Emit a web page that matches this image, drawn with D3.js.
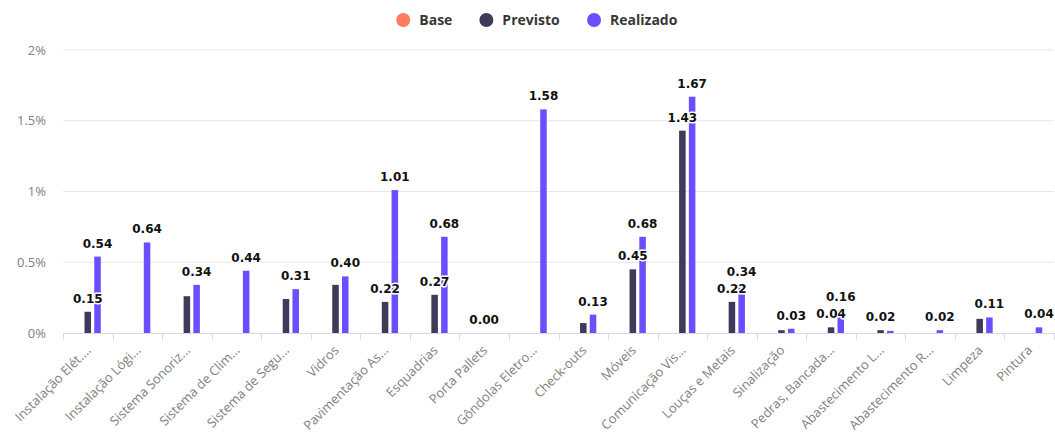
<!DOCTYPE html>
<html>
<head>
<meta charset="utf-8">
<script src="https://cdn.jsdelivr.net/npm/d3@7"></script>
<style>
  html, body { margin: 0; padding: 0; background: #ffffff; }
  svg { display: block; }
</style>
</head>
<body>
<svg id="chart" width="1055" height="436"></svg>
<script>
// Categories (service groups) as shown on the axis
const categories = [
  "Instalação Elét....", "Instalação Lógi...", "Sistema Sonoriz...", "Sistema de Clim...",
  "Sistema de Segu...", "Vidros", "Pavimentação As...", "Esquadrias", "Porta Pallets",
  "Gôndolas Eletro...", "Check-outs", "Móveis", "Comunicação Vis...", "Louças e Metais",
  "Sinalização", "Pedras, Bancada...", "Abastecimento L...", "Abastecimento R...",
  "Limpeza", "Pintura"
];

// Series values in percent (null = no value)
const baseValues = [null, null, null, null, null, null, null, null, null, null,
                    null, null, null, null, null, null, null, null, null, null];
const previstoValues = [0.15, null, 0.26, null, 0.24, 0.34, 0.22, 0.27, 0.00, null,
                        0.07, 0.45, 1.43, 0.22, 0.02, 0.04, 0.02, null, 0.10, null];
const realizadoValues = [0.54, 0.64, 0.34, 0.44, 0.31, 0.40, 1.01, 0.68, null, 1.58,
                         0.13, 0.68, 1.67, 0.34, 0.03, 0.16, 0.015, 0.02, 0.11, 0.04];

const seriesNames = ["Base", "Previsto", "Realizado"];
const seriesColors = ["#FF7A5F", "#3D3A5A", "#6B4EFF"];
const yTicks = [0, 0.5, 1, 1.5, 2];

const series = [baseValues, previstoValues, realizadoValues].map((values, i) => ({
  name: seriesNames[i], color: seriesColors[i], values
}));

const svg = d3.select("#chart");
const plot = { left: 63, right: 1054, top: 50, bottom: 333 };

const x0 = d3.scaleBand().domain(categories).range([plot.left, plot.right]).padding(0);
const groupWidth = x0.bandwidth() * 0.59;
const x1 = d3.scaleBand().domain(seriesNames).range([-groupWidth / 2, groupWidth / 2]).padding(0);
const barWidth = x1.bandwidth() * 0.67;
const y = d3.scaleLinear().domain([0, 2]).range([plot.bottom, plot.top]);

const fontUI = "'Open Sans', 'Noto Sans', sans-serif";
const axisGray = "#808080";

// Horizontal grid lines
svg.append("g").selectAll("line")
  .data(yTicks.filter(t => t > 0))
  .join("line")
  .attr("x1", plot.left).attr("x2", plot.right)
  .attr("y1", d => y(d)).attr("y2", d => y(d))
  .attr("stroke", "#e6e6e6").attr("stroke-width", 1);

// Y axis labels
const yAxis = d3.axisLeft(y).tickValues(yTicks)
  .tickFormat(d => d3.format("~g")(d) + "%").tickSize(0).tickPadding(17);
svg.append("g")
  .attr("transform", `translate(${plot.left},0)`)
  .call(yAxis)
  .call(g => g.select(".domain").remove())
  .call(g => g.selectAll("text")
    .attr("fill", axisGray)
    .style("font-family", fontUI)
    .style("font-size", "13px"));

// X axis: baseline, boundary ticks, rotated labels
const xAxisG = svg.append("g");
xAxisG.append("line")
  .attr("x1", plot.left).attr("x2", plot.right)
  .attr("y1", plot.bottom + 0.5).attr("y2", plot.bottom + 0.5)
  .attr("stroke", "#d4d9ee").attr("stroke-width", 1);
const boundaries = categories.map(c => x0(c)).concat([x0(categories[categories.length - 1]) + x0.bandwidth()]);
xAxisG.selectAll("line.tick")
  .data(boundaries)
  .join("line")
  .attr("class", "tick")
  .attr("x1", d => Math.round(d) + 0.5).attr("x2", d => Math.round(d) + 0.5)
  .attr("y1", plot.bottom).attr("y2", plot.bottom + 7)
  .attr("stroke", "#d4d9ee").attr("stroke-width", 1);
xAxisG.selectAll("text")
  .data(categories)
  .join("text")
  .attr("transform", d => `translate(${x0(d) + x0.bandwidth() / 2 + 4},${plot.bottom + 18}) rotate(-45)`)
  .attr("text-anchor", "end")
  .attr("fill", axisGray)
  .style("font-family", fontUI)
  .style("font-size", "13px")
  .text(d => d);

// Bars
const barsG = svg.append("g");
series.forEach(s => {
  barsG.append("g").selectAll("rect")
    .data(categories.map((c, i) => ({ c, v: s.values[i] })).filter(d => d.v != null))
    .join("rect")
    .attr("x", d => x0(d.c) + x0.bandwidth() / 2 + x1(s.name) + (x1.bandwidth() - barWidth) / 2)
    .attr("width", barWidth)
    .attr("y", d => y(d.v))
    .attr("height", d => y(0) - y(d.v))
    .attr("fill", s.color);
});

// Value labels: where two labels of one category collide, keep the larger value's
const labelH = 14;
const labels = [];
categories.forEach((c, i) => {
  const items = series
    .map(s => ({ s, v: s.values[i] }))
    .filter(d => d.v != null)
    .sort((a, b) => b.v - a.v);
  const kept = [];
  items.forEach(d => {
    const ly = y(d.v) - 9;
    if (kept.every(k => Math.abs(k.ly - ly) >= labelH)) {
      kept.push({ ly });
      labels.push({ x: x0(c) + x0.bandwidth() / 2 + x1(d.s.name) + x1.bandwidth() / 2, y: ly, v: d.v });
    }
  });
});
svg.append("g").selectAll("text")
  .data(labels)
  .join("text")
  .attr("x", d => d.x).attr("y", d => d.y)
  .attr("text-anchor", "middle")
  .attr("fill", "#111111")
  .attr("stroke", "#ffffff").attr("stroke-width", 3)
  .attr("stroke-linejoin", "round")
  .style("paint-order", "stroke")
  .style("font-family", "'DejaVu Sans', sans-serif")
  .style("font-weight", "bold")
  .style("font-size", "12px")
  .text(d => d3.format(".2f")(d.v));

// Legend
const legend = svg.append("g").attr("transform", "translate(0,20)");
const items = legend.selectAll("g").data(series).join("g");
items.append("circle").attr("r", 7).attr("fill", d => d.color);
items.append("text")
  .attr("x", 16).attr("dy", "0.35em")
  .attr("fill", "#373737")
  .style("font-family", fontUI)
  .style("font-weight", "bold")
  .style("font-size", "14px")
  .text(d => d.name);
const widths = [];
items.each(function () { widths.push(this.getBBox().width); });
const gap = 27;
const total = d3.sum(widths) + gap * (widths.length - 1);
let cx = 537 - total / 2 + 7;
items.attr("transform", (d, i) => {
  const t = `translate(${cx},0)`;
  cx += widths[i] + gap;
  return t;
});
</script>
</body>
</html>
